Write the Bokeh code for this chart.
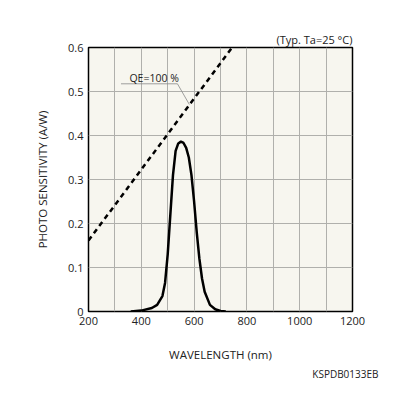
from bokeh.plotting import figure
from bokeh.models import Label, Range1d, FixedTicker, Title
from bokeh.embed import file_html
from bokeh.resources import INLINE

# Data
wavelength = [360, 400, 440, 460, 480, 490, 500, 510, 520, 530, 540, 550, 560, 570,
              580, 590, 600, 610, 620, 630, 640, 660, 680, 700, 720]
sensitivity = [0.0, 0.002, 0.008, 0.015, 0.035, 0.065, 0.13, 0.22, 0.31, 0.365, 0.382,
               0.386, 0.383, 0.372, 0.35, 0.31, 0.25, 0.18, 0.12, 0.075, 0.045, 0.015,
               0.005, 0.001, 0.0]
qe_wavelength = [200, 744]
qe_sensitivity = [w / 1240 for w in qe_wavelength]
x_ticks = [200, 400, 600, 800, 1000, 1200]
y_ticks = [0, 0.1, 0.2, 0.3, 0.4, 0.5, 0.6]
y_tick_labels = {0: "0", 0.1: "0.1", 0.2: "0.2", 0.3: "0.3", 0.4: "0.4", 0.5: "0.5", 0.6: "0.6"}

FONT = "Open Sans"
TXT = "#222222"

p = figure(width=380, height=380, output_backend="svg", toolbar_location=None,
           x_range=Range1d(200, 1200), y_range=Range1d(0, 0.6),
           min_border_left=88, min_border_right=28, min_border_top=47, min_border_bottom=69)
p.background_fill_color = "#f7f6ef"
p.border_fill_color = "white"
p.outline_line_color = "black"
p.outline_line_width = 1.5

p.xaxis.ticker = FixedTicker(ticks=x_ticks)
p.yaxis.ticker = FixedTicker(ticks=y_ticks)
p.yaxis.major_label_overrides = y_tick_labels
p.xgrid.ticker = FixedTicker(ticks=list(range(200, 1201, 100)))
p.ygrid.ticker = FixedTicker(ticks=y_ticks)
p.xgrid.grid_line_color = "#b0b0ac"
p.ygrid.grid_line_color = "#b0b0ac"
p.xgrid.grid_line_width = 1
p.ygrid.grid_line_width = 1

for ax in (p.xaxis, p.yaxis):
    ax.axis_line_color = None
    ax.major_tick_line_color = None
    ax.minor_tick_line_color = None
    ax.major_tick_out = 0
    ax.major_tick_in = 0
    ax.minor_tick_out = 0
    ax.minor_tick_in = 0
    ax.major_label_text_font = FONT
    ax.major_label_text_font_size = "11px"
    ax.major_label_text_color = TXT
    ax.axis_label_text_font = FONT
    ax.axis_label_text_font_size = "11.5px"
    ax.axis_label_text_font_style = "normal"
    ax.axis_label_text_color = TXT
p.xaxis.major_label_standoff = 5
p.yaxis.major_label_standoff = 5
p.xaxis.axis_label = "WAVELENGTH (nm)"
p.yaxis.axis_label = "PHOTO SENSITIVITY (A/W)"
p.xaxis.axis_label_standoff = 19
p.yaxis.axis_label_standoff = 15

p.line(qe_wavelength, qe_sensitivity, line_color="black", line_width=2.5, line_dash="5 4")
p.line(wavelength, sensitivity, line_color="black", line_width=2.5)

# QE leader line
p.line([323, 537, 582], [0.5175, 0.5175, 0.4705], line_color="#888888", line_width=0.8)
p.add_layout(Label(x=355, y=0.5155, text="QE=100 %", text_font=FONT, text_font_size="10.5px",
                   text_color=TXT, text_baseline="bottom"))

p.add_layout(Title(text="(Typ. Ta=25 °C)", align="right", text_font=FONT,
                   text_font_size="11px", text_font_style="normal", text_color=TXT,
                   standoff=2), "above")
p.add_layout(Title(text="KSPDB0133EB", align="right", text_font=FONT,
                   text_font_size="10px", text_font_style="normal", text_color=TXT,
                   offset=-26, standoff=0), "below")

open("out.html", "w").write(file_html(p, INLINE))
